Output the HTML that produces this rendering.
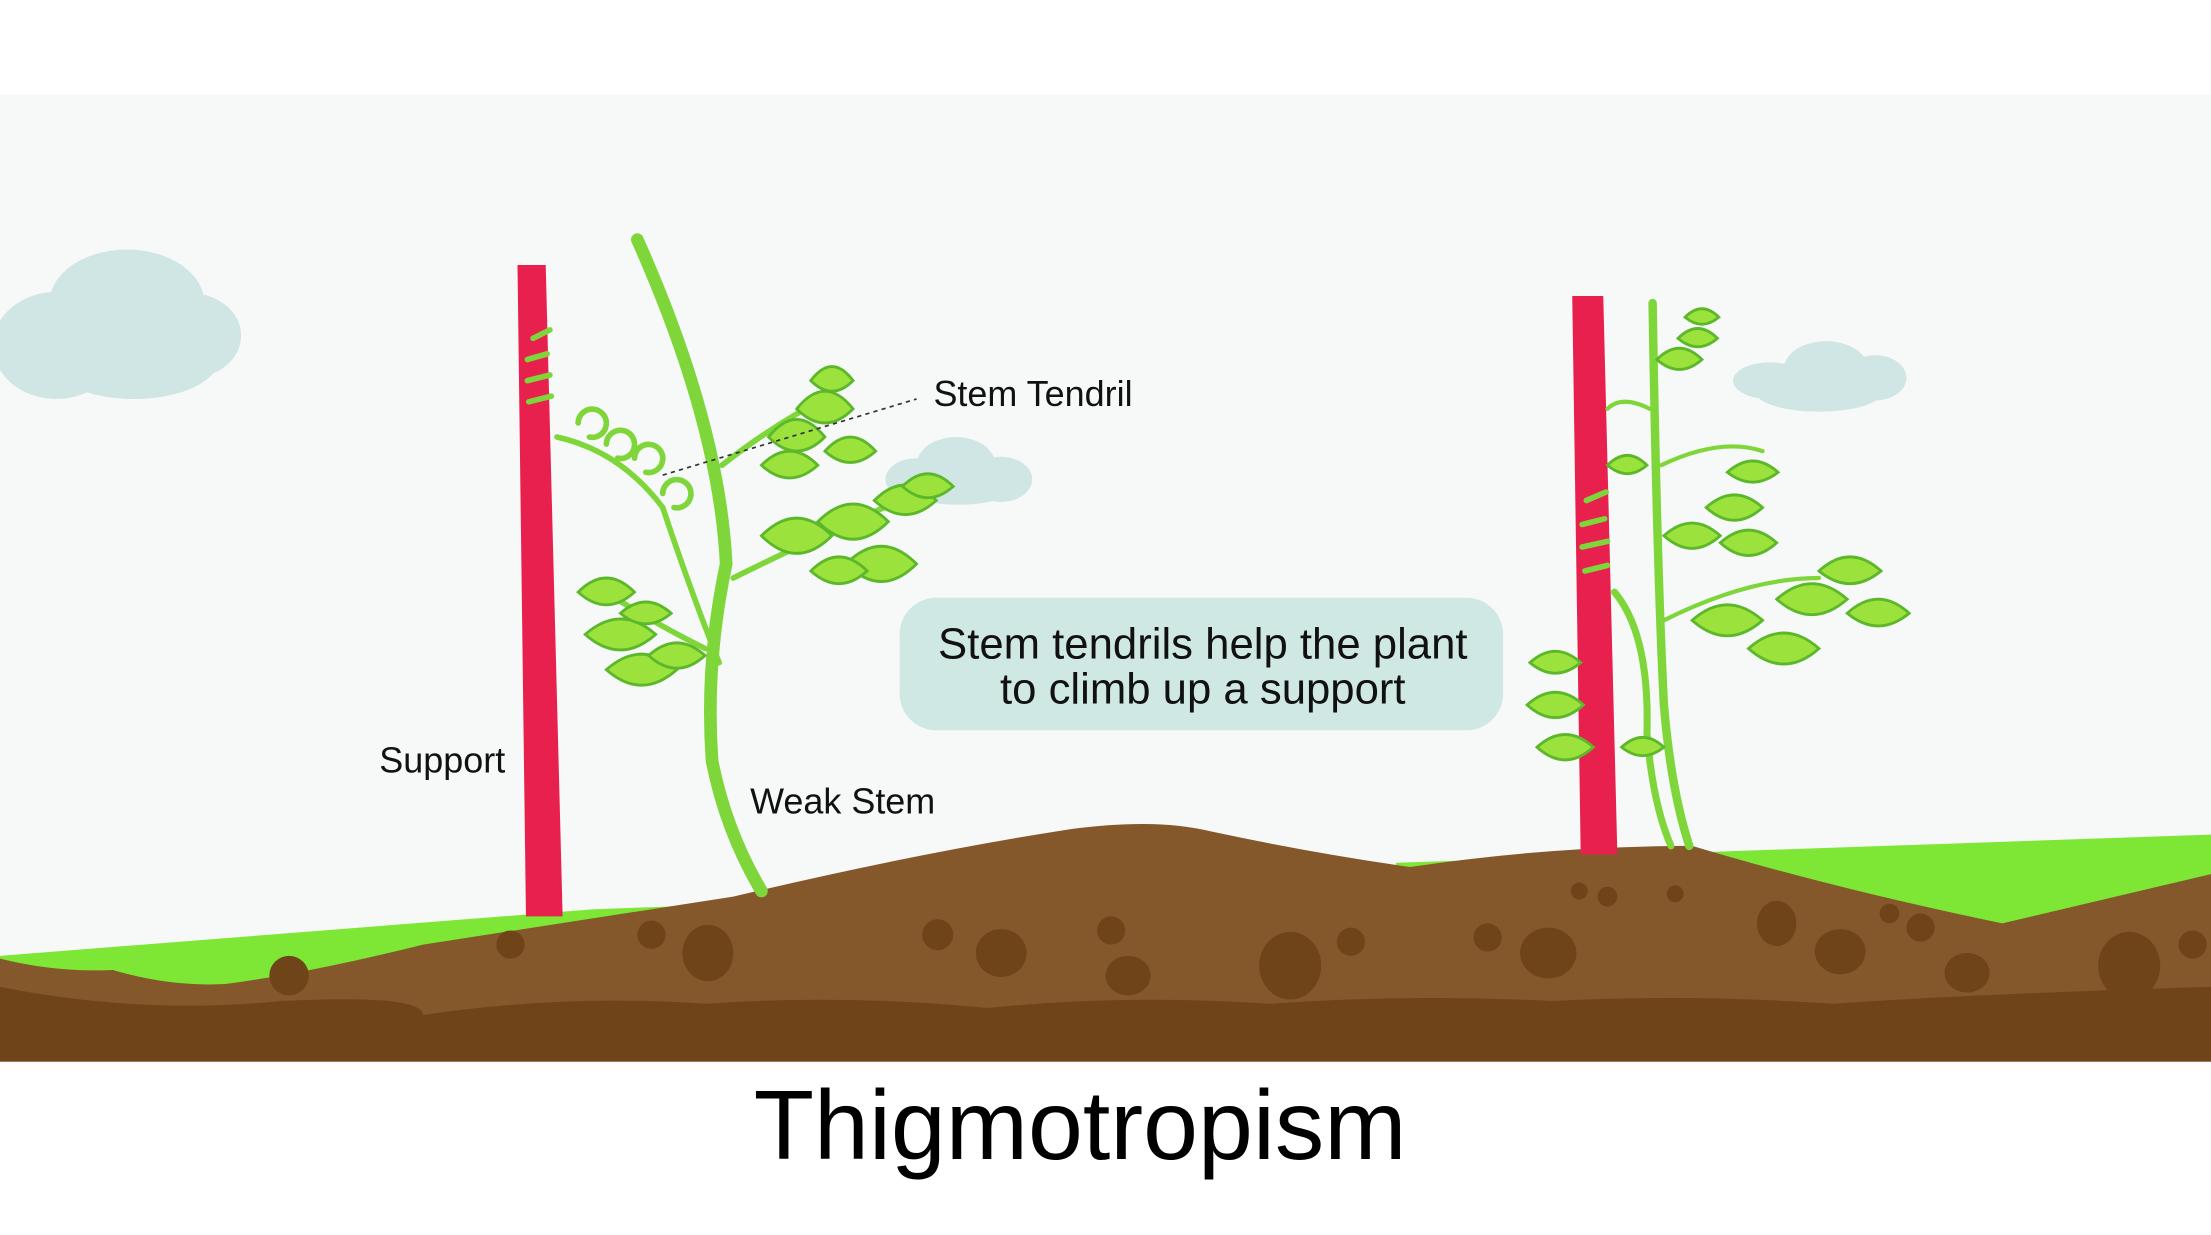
<!DOCTYPE html>
<html><head><meta charset="utf-8"><style>
html,body{margin:0;padding:0;background:#fff;}
svg{display:block;}
</style></head><body>
<svg width="2211" height="1235" viewBox="0 0 1568 876" preserveAspectRatio="none" xmlns="http://www.w3.org/2000/svg" font-family="Liberation Sans, sans-serif">
<rect x="0" y="0" width="1568" height="876" fill="#ffffff"/>
<rect x="0" y="67" width="1568" height="686" fill="#f7f8f8"/>
<g fill="#cfe6e4">
<ellipse cx="90" cy="215" rx="55" ry="38"/><ellipse cx="135" cy="238" rx="36" ry="30"/><ellipse cx="40" cy="245" rx="45" ry="38"/><ellipse cx="95" cy="255" rx="60" ry="28"/>
<ellipse cx="678" cy="330" rx="28" ry="20"/><ellipse cx="710" cy="340" rx="22" ry="16"/><ellipse cx="650" cy="340" rx="22" ry="15"/><ellipse cx="680" cy="345" rx="40" ry="13"/>
<ellipse cx="1295" cy="262" rx="30" ry="20"/><ellipse cx="1330" cy="268" rx="22" ry="16"/><ellipse cx="1255" cy="270" rx="26" ry="13"/><ellipse cx="1290" cy="278" rx="45" ry="14"/>
</g>
<path d="M0 678 L420 645 L560 640 L560 700 L0 705 Z" fill="#7ee634"/>
<path d="M990 612 L1568 592 L1568 660 L990 660 Z" fill="#7ee634"/>
<path d="M0 680 Q40 690 80 688 Q120 700 160 698 Q220 690 300 670 L520 636 Q650 605 760 588 Q820 580 860 590 Q930 605 1000 615 Q1100 600 1200 600 Q1300 630 1420 655 L1568 620 L1568 753 L0 753 Z" fill="#84582b"/>
<path d="M0 700 Q100 720 200 710 Q300 705 300 720 Q400 705 500 712 Q600 705 700 715 Q800 705 900 712 Q1000 705 1100 710 Q1200 705 1300 712 Q1400 705 1568 700 L1568 753 L0 753 Z" fill="#6e4418"/>
<g fill="#6e4418">
<circle cx="205" cy="692" r="14"/><circle cx="362" cy="670" r="10"/><circle cx="462" cy="663" r="10"/><ellipse cx="502" cy="676" rx="18" ry="20"/>
<circle cx="665" cy="663" r="11"/><ellipse cx="710" cy="676" rx="18" ry="17"/><circle cx="788" cy="660" r="10"/><ellipse cx="800" cy="692" rx="16" ry="14"/>
<ellipse cx="915" cy="685" rx="22" ry="24"/><circle cx="958" cy="668" r="10"/><circle cx="1055" cy="665" r="10"/><ellipse cx="1098" cy="676" rx="20" ry="18"/>
<circle cx="1120" cy="632" r="6"/><circle cx="1140" cy="636" r="7"/><circle cx="1188" cy="634" r="6"/><ellipse cx="1260" cy="655" rx="14" ry="16"/>
<ellipse cx="1305" cy="675" rx="18" ry="16"/><circle cx="1340" cy="648" r="7"/><circle cx="1362" cy="658" r="10"/><ellipse cx="1395" cy="690" rx="16" ry="14"/><ellipse cx="1510" cy="685" rx="22" ry="24"/><circle cx="1555" cy="670" r="10"/>
</g>
<path d="M367 188 L387 188 L399 650 L373 650 Z" fill="#e8204e"/>
<path d="M1115 210 L1137 210 L1147 606 L1121 606 Z" fill="#e8204e"/>
<g fill="none" stroke="#7fd63a" stroke-linecap="round">
<path d="M452 170 Q510 300 515 400 Q500 470 505 540 Q515 590 540 632" stroke-width="9"/>
<path d="M395 310 Q440 320 470 360 Q490 420 510 470" stroke-width="4"/>
<path d="M378 240 l12 -6 M374 255 l14 -4 M374 270 l16 -4 M375 285 l16 -4" stroke-width="4"/>
<path d="M410 300 a10 10 0 1 1 8 10 M430 315 a10 10 0 1 1 8 10 M450 325 a10 10 0 1 1 8 10 M470 350 a10 10 0 1 1 8 10" stroke-width="4"/>
<path d="M512 330 Q550 300 590 280 M520 410 Q580 380 650 350 M500 460 Q460 440 430 420" stroke-width="4"/>
<path d="M1172 215 Q1175 400 1180 500 Q1185 560 1198 600" stroke-width="6"/>
<path d="M1145 420 Q1170 450 1168 520 Q1172 570 1185 600" stroke-width="5"/>
<path d="M1125 355 l14 -6 M1122 372 l16 -4 M1122 388 l18 -4 M1124 405 l16 -4" stroke-width="4"/>
<path d="M1178 330 Q1220 310 1250 320 M1180 440 Q1240 410 1290 410 M1170 290 Q1150 280 1140 290" stroke-width="3"/>
</g>
<g fill="#9be33c" stroke="#5cb82a" stroke-width="2">
<path d="M545 310 q20 -25 40 0 q-20 20 -40 0z"/><path d="M565 290 q20 -25 40 0 q-20 20 -40 0z"/><path d="M575 270 q15 -20 30 0 q-15 15 -30 0z"/><path d="M540 330 q20 -20 40 0 q-20 18 -40 0z"/><path d="M585 320 q18 -20 36 0 q-18 16 -36 0z"/>
<path d="M540 380 q25 -25 50 0 q-25 25 -50 0z"/><path d="M580 370 q25 -25 50 0 q-25 25 -50 0z"/><path d="M600 400 q25 -25 50 0 q-25 25 -50 0z"/><path d="M620 355 q22 -22 44 0 q-22 20 -44 0z"/><path d="M640 345 q18 -18 36 0 q-18 16 -36 0z"/><path d="M575 405 q20 -20 40 0 q-20 18 -40 0z"/>
<path d="M410 420 q20 -20 40 0 q-20 18 -40 0z"/><path d="M415 450 q25 -22 50 0 q-25 22 -50 0z"/><path d="M430 475 q25 -22 50 0 q-25 22 -50 0z"/><path d="M460 465 q20 -18 40 0 q-20 18 -40 0z"/><path d="M440 435 q18 -16 36 0 q-18 15 -36 0z"/>
<path d="M1175 255 q16 -16 32 0 q-16 14 -32 0z"/><path d="M1190 240 q14 -14 28 0 q-14 12 -28 0z"/><path d="M1195 225 q12 -12 24 0 q-12 10 -24 0z"/>
<path d="M1140 330 q14 -14 28 0 q-14 12 -28 0z"/><path d="M1180 380 q20 -18 40 0 q-20 18 -40 0z"/><path d="M1210 360 q20 -18 40 0 q-20 18 -40 0z"/><path d="M1225 335 q18 -16 36 0 q-18 14 -36 0z"/><path d="M1220 385 q20 -18 40 0 q-20 18 -40 0z"/>
<path d="M1200 440 q25 -22 50 0 q-25 22 -50 0z"/><path d="M1240 460 q25 -22 50 0 q-25 22 -50 0z"/><path d="M1260 425 q25 -22 50 0 q-25 22 -50 0z"/><path d="M1290 405 q22 -20 44 0 q-22 18 -44 0z"/><path d="M1310 435 q22 -20 44 0 q-22 18 -44 0z"/>
<path d="M1085 470 q18 -16 36 0 q-18 15 -36 0z"/><path d="M1083 500 q20 -18 40 0 q-20 18 -40 0z"/><path d="M1090 530 q20 -18 40 0 q-20 18 -40 0z"/><path d="M1150 530 q15 -14 30 0 q-15 12 -30 0z"/>
</g>
<line x1="470" y1="337" x2="650" y2="283" stroke="#333" stroke-width="1.2" stroke-dasharray="3,3"/>
<g fill="#111" font-size="25.5">
<text x="662" y="288">Stem Tendril</text>
<text x="269" y="548">Support</text>
<text x="532" y="577">Weak Stem</text>
</g>
<rect x="638" y="424" width="428" height="94" rx="26" fill="#cfe8e3"/>
<g fill="#111" font-size="31" text-anchor="middle">
<text x="853" y="467">Stem tendrils help the plant</text>
<text x="853" y="499">to climb up a support</text>
</g>
<text x="766" y="822" text-anchor="middle" font-size="70" fill="#000">Thigmotropism</text>
</svg>
</body></html>
